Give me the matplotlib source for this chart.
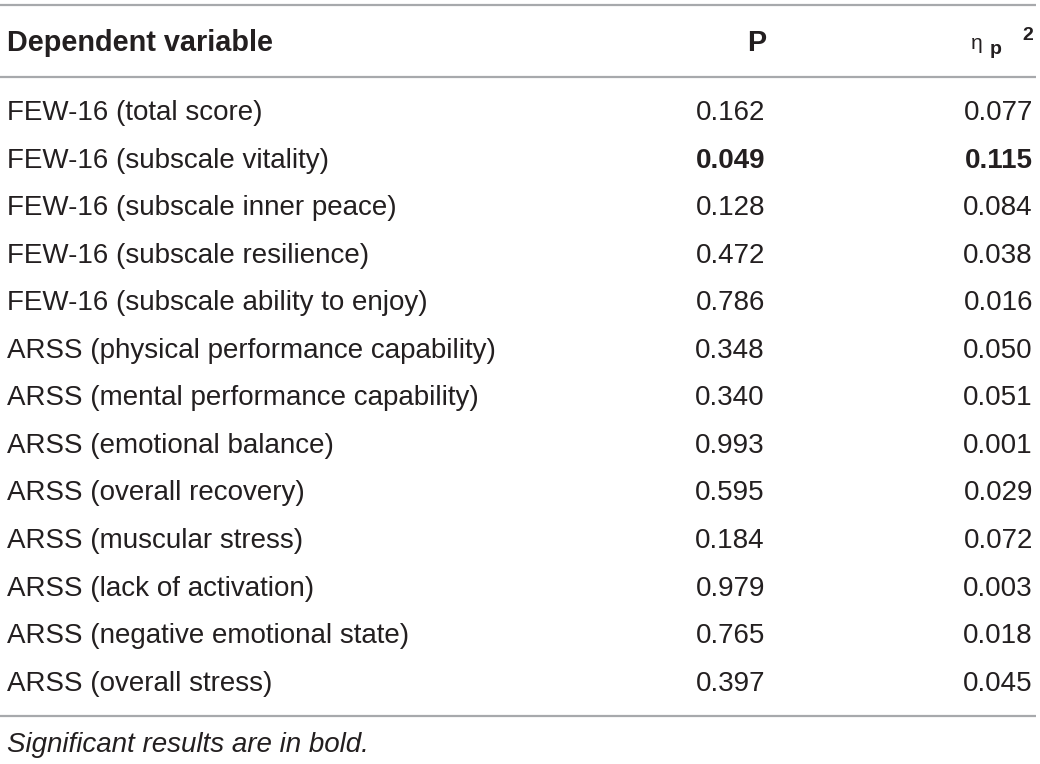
import matplotlib
matplotlib.use("Agg")
import matplotlib.pyplot as plt

variables = [
    "FEW-16 (total score)",
    "FEW-16 (subscale vitality)",
    "FEW-16 (subscale inner peace)",
    "FEW-16 (subscale resilience)",
    "FEW-16 (subscale ability to enjoy)",
    "ARSS (physical performance capability)",
    "ARSS (mental performance capability)",
    "ARSS (emotional balance)",
    "ARSS (overall recovery)",
    "ARSS (muscular stress)",
    "ARSS (lack of activation)",
    "ARSS (negative emotional state)",
    "ARSS (overall stress)",
]
p_values = ["0.162", "0.049", "0.128", "0.472", "0.786", "0.348", "0.340",
            "0.993", "0.595", "0.184", "0.979", "0.765", "0.397"]
eta_values = ["0.077", "0.115", "0.084", "0.038", "0.016", "0.050", "0.051",
              "0.001", "0.029", "0.072", "0.003", "0.018", "0.045"]
significant = [False, True, False, False, False, False, False,
               False, False, False, False, False, False]
header_var = "Dependent variable"
header_p = "P"
footnote = "Significant results are in bold."

W, H = 1040, 764
fig = plt.figure(figsize=(W / 100, H / 100), dpi=100)
ax = fig.add_axes([0, 0, 1, 1])
ax.set_xlim(0, W)
ax.set_ylim(H, 0)
ax.axis("off")

FONT = "Liberation Sans"
FS = 20
FSH = 20.8
TXT = "#231f20"
LINE = "#a7a9ac"

for y in (5, 77, 716):
    ax.plot([0, 1036], [y, y], color=LINE, lw=1.6, solid_capstyle="butt")

x_label = 7
x_p = 765
x_eta = 1033

ax.text(x_label, 51, header_var, fontsize=FSH, fontfamily=FONT, fontweight="bold",
        color=TXT, ha="left", va="baseline")
ax.text(757, 51, header_p, fontsize=FSH, fontfamily=FONT, fontweight="bold",
        color=TXT, ha="center", va="baseline")
ax.text(971, 49, "η", fontsize=15, fontfamily=FONT, color=TXT,
        ha="left", va="baseline")
ax.text(990, 54, "p", fontsize=14, fontfamily=FONT, fontweight="bold", color=TXT,
        ha="left", va="baseline")
ax.text(1033, 40, "2", fontsize=14, fontfamily=FONT, fontweight="bold", color=TXT,
        ha="right", va="baseline")

y0, dy = 120, 47.55
for i, (v, p, e, s) in enumerate(zip(variables, p_values, eta_values, significant)):
    y = y0 + i * dy
    w = "bold" if s else "normal"
    ax.text(x_label, y, v, fontsize=FS, fontfamily=FONT, color=TXT, ha="left", va="baseline")
    ax.text(x_p, y, p, fontsize=FS, fontfamily=FONT, fontweight=w, color=TXT,
            ha="right", va="baseline")
    ax.text(x_eta, y, e, fontsize=FS, fontfamily=FONT, fontweight=w, color=TXT,
            ha="right", va="baseline")

ax.text(x_label, 752, footnote, fontsize=FS, fontfamily=FONT, fontstyle="italic",
        color=TXT, ha="left", va="baseline")

fig.savefig("out.png", dpi=100, facecolor="white")
